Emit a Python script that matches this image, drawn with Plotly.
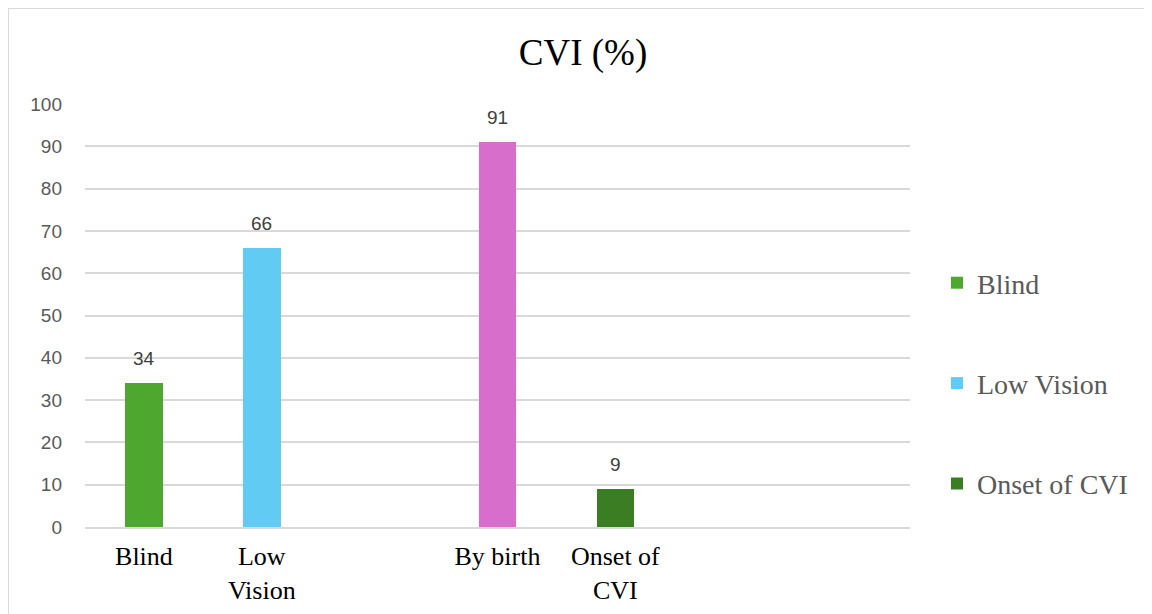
import plotly.graph_objects as go

categories = ["Blind", "Low<br>Vision", " ", "By birth", "Onset of<br>CVI", "  ", "   "]
series_names = ["Blind", "Low Vision", "By birth", "Onset of CVI"]
series_cats = ["Blind", "Low<br>Vision", "By birth", "Onset of<br>CVI"]
series_values = [34, 66, 91, 9]
series_colors = ["#4EA72E", "#61CBF4", "#D86ECC", "#3B7D23"]
series_in_legend = [True, True, False, True]
y_ticks = [0, 10, 20, 30, 40, 50, 60, 70, 80, 90, 100]

OFF = 8  # page body margin
W, H = 1152, 614
L, R, T, B = 85 - OFF, 242 + OFF, 104 - OFF, 87 + OFF
pw, ph = W - L - R, H - T - B

fig = go.Figure()
for n, c, v, col, sl in zip(series_names, series_cats, series_values, series_colors, series_in_legend):
    fig.add_trace(go.Bar(
        x=[c], y=[v], name=n, marker=dict(color=col, line=dict(width=0)),
        width=0.32, showlegend=sl, legendgroup=n,
    ))
    fig.add_annotation(x=c, y=v, text=str(v), showarrow=False, yanchor="bottom", yshift=12,
                       font=dict(family="Liberation Sans, Arial", size=19, color="#404040"))


def px_x(p):
    return (p - OFF - L) / pw


def px_y(p):
    return (H - B - (p - OFF)) / ph


fig.update_layout(
    width=W, height=H,
    margin=dict(l=L, r=R, t=T, b=B),
    paper_bgcolor="white", plot_bgcolor="white",
    barmode="overlay",
    title=dict(text="CVI (%)", x=(583 - OFF) / W, xanchor="center",
               y=1 - (52 - OFF) / H, yanchor="middle",
               font=dict(family="Liberation Serif, Times New Roman", size=37, color="black")),
    xaxis=dict(type="category", categoryorder="array", categoryarray=categories,
               showgrid=False, showline=True, linecolor="#d9d9d9", linewidth=1.5,
               tickfont=dict(family="Liberation Serif, Times New Roman", size=26, color="black"),
               ticks="", ticklabelstandoff=5, range=[-0.5, len(categories) - 0.5]),
    yaxis=dict(range=[0, 100], tickvals=y_ticks, showgrid=True, gridcolor="#d9d9d9", gridwidth=1.5,
               zeroline=False, showline=False, ticks="", ticklabelstandoff=22,
               tickfont=dict(family="Liberation Sans, Arial", size=19, color="#595959")),
    legend=dict(x=px_x(937), y=px_y(258), xanchor="left", yanchor="top",
                font=dict(family="Liberation Serif, Times New Roman", size=28, color="#595959"),
                tracegroupgap=61, itemwidth=30, bgcolor="rgba(0,0,0,0)"),
    bargap=0,
    shapes=[dict(type="rect", xref="paper", yref="paper",
                 x0=px_x(8), x1=px_x(1170), y0=px_y(630), y1=px_y(8),
                 line=dict(color="#d9d9d9", width=2), fillcolor="rgba(0,0,0,0)", layer="below")],
)

fig.write_html("out.html")
